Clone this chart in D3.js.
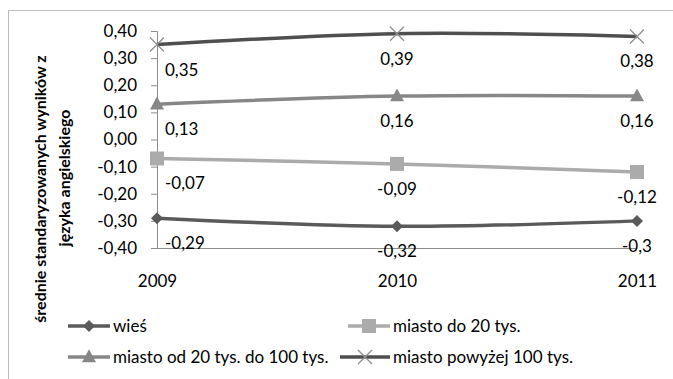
<!DOCTYPE html>
<html><head><meta charset="utf-8">
<script src="https://cdn.jsdelivr.net/npm/d3@7"></script>
<style>body{margin:0;background:#fff}svg{display:block}text{font-family:Lato,"Open Sans",sans-serif;fill:#000}</style>
</head><body><svg id="c" width="673" height="379"></svg>
<script>
const years = ["2009","2010","2011"];
const seriesNames = ["wieś","miasto do 20 tys.","miasto od 20 tys. do 100 tys.","miasto powyżej 100 tys."];
const wies = [-0.29,-0.32,-0.30];
const miastoDo20 = [-0.07,-0.09,-0.12];
const miasto20do100 = [0.13,0.16,0.16];
const miastoPow100 = [0.35,0.39,0.38];
const yTicks = [-0.4,-0.3,-0.2,-0.1,0,0.1,0.2,0.3,0.4];
const yTitle = ["średnie standaryzowanych wyników z","języka angielskiego"];

const series = [
  {name:seriesNames[0], values:wies, color:"#5a5a5a", marker:"diamond", mcolor:"#5a5a5a"},
  {name:seriesNames[1], values:miastoDo20, color:"#ababab", marker:"square", mcolor:"#ababab"},
  {name:seriesNames[2], values:miasto20do100, color:"#878787", marker:"triangle", mcolor:"#878787"},
  {name:seriesNames[3], values:miastoPow100, color:"#4f4f4f", marker:"x", mcolor:"#8f8f8f"}
];

const svg = d3.select("#c");
svg.append("rect").attr("x",8.5).attr("y",10.5).attr("width",720).attr("height",420)
  .attr("fill","none").attr("stroke","#bcbcbc");

const x = d3.scalePoint().domain(years).range([157,637]);
const y = d3.scaleLinear().domain([-0.4,0.4]).range([248,31]);
const fmtTick = d => d3.format(".2f")(d).replace(".",",").replace("−","-");
const fmtLbl = d => String(d).replace(".",",");

// y axis
const ya = svg.append("g").attr("transform","translate(157,0)")
  .call(d3.axisLeft(y).tickValues(yTicks).tickSize(6).tickPadding(14).tickFormat(fmtTick));
ya.select(".domain").attr("stroke","#8c8c8c").attr("stroke-width",1);
ya.selectAll(".tick line").attr("stroke","#8c8c8c");
ya.selectAll(".tick text").style("font-size","17px").attr("fill","#000");

// x axis
const xa = svg.append("g").attr("transform","translate(0,248)")
  .call(d3.axisBottom(x).tickSize(0).tickPadding(27));
xa.select(".domain").attr("stroke","#8c8c8c").attr("d","M157,0.5H637");
xa.selectAll(".tick text").style("font-size","17px").attr("fill","#000");

// y title
yTitle.forEach((t,i)=>{
  svg.append("text").attr("transform",`translate(${[46,70][i]},${[189,178][i]}) rotate(-90)`)
    .attr("text-anchor","middle").style("font-size","16px").style("font-weight","bold").text(t);
});

function marker(g, type, cx, cy, color, s){
  if(type==="diamond"){
    g.append("path").attr("d",`M${cx},${cy-s}L${cx+s},${cy}L${cx},${cy+s}L${cx-s},${cy}Z`).attr("fill",color);
  } else if(type==="square"){
    g.append("rect").attr("x",cx-s).attr("y",cy-s).attr("width",2*s).attr("height",2*s).attr("fill",color);
  } else if(type==="triangle"){
    g.append("path").attr("d",`M${cx},${cy-s*1.1}L${cx+s},${cy+s*0.75}L${cx-s},${cy+s*0.75}Z`).attr("fill",color);
  } else {
    g.append("path").attr("d",`M${cx-s},${cy-s}L${cx+s},${cy+s}M${cx-s},${cy+s}L${cx+s},${cy-s}`)
      .attr("stroke",color).attr("stroke-width",1.3).attr("fill","none");
  }
}
const msize = {diamond:6,square:7,triangle:7,x:7};

const line = d3.line().x((d,i)=>x(years[i])).y(d=>y(d)).curve(d3.curveCatmullRom.alpha(0.5));
series.forEach(s=>{
  const g = svg.append("g");
  g.append("path").attr("d",line(s.values)).attr("fill","none").attr("stroke",s.color).attr("stroke-width",3.5);
  s.values.forEach((v,i)=>marker(g,s.marker,x(years[i]),y(v),s.mcolor,msize[s.marker]));
  s.values.forEach((v,i)=>{
    g.append("text").attr("x",x(years[i])+(i===0?8:0)).attr("y",y(v)+31)
      .attr("text-anchor",i===0?"start":"middle").style("font-size","17px").text(fmtLbl(v));
  });
});

// legend
const legPos = [[68,326],[348,326],[68,357],[340,357]];
series.forEach((s,i)=>{
  const [lx,ly] = legPos[i];
  const g = svg.append("g");
  const ex = i%2===0?110:390;
  g.append("line").attr("x1",lx).attr("x2",ex).attr("y1",ly).attr("y2",ly)
    .attr("stroke",s.color).attr("stroke-width",3.5);
  marker(g,s.marker,(lx+ex)/2,ly,s.mcolor,msize[s.marker]);
  g.append("text").attr("x",ex+3).attr("y",ly+6).style("font-size","17px").text(s.name);
});
</script></body></html>
